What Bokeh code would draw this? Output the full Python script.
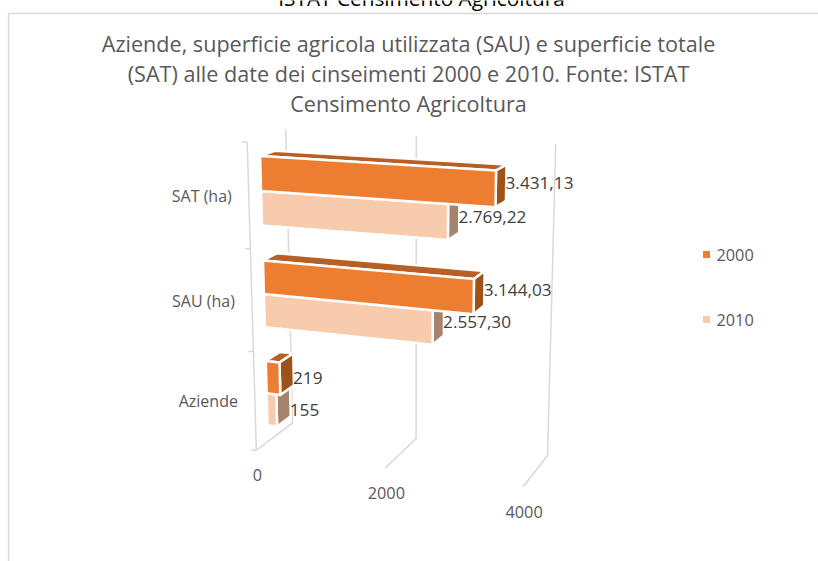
import numpy as np
from bokeh.plotting import figure
from bokeh.models import Range1d, ColumnDataSource
from bokeh.core.properties import value
from bokeh.embed import file_html
from bokeh.resources import INLINE

categories = ["Aziende", "SAU (ha)", "SAT (ha)"]
values_2000 = [219, 3144.03, 3431.13]
values_2010 = [155, 2557.30, 2769.22]
labels_2000 = ["219", "3.144,03", "3.431,13"]
labels_2010 = ["155", "2.557,30", "2.769,22"]
series_names = ["2000", "2010"]
value_ticks = [0, 2000, 4000]
title_lines = ["Aziende, superficie agricola utilizzata (SAU) e superficie totale",
               "(SAT) alle date dei cinseimenti 2000 e 2010. Fonte: ISTAT",
               "Censimento Agricoltura"]
top_text = "ISTAT Censimento Agricoltura"

VMAX = 4000.0
FONT = "Open Sans"
GRID = "#D9D9D9"

# Perspective camera: homography from (value, height, depth) to the page, fitted on the box corners
_calib = [((0, 0, 0), (256, 449)), ((0, 0, 1), (292, 423)), ((1, 0, 0), (523, 486)),
          ((1, 0, 1), (547, 455)), ((0, 1, 1), (286, 128)), ((1, 1, 1), (555, 143)),
          ((0, 1, 0), (246, 142)), ((.5, 0, 1), (415, 438)), ((.5, 1, 1), (416, 136)),
          ((.5, 0, 0), (385, 468))]
_A, _b = [], []
for (u, w, d), (X, Y) in _calib:
    _A.append([u, w, d, 1, 0, 0, 0, 0, -X*u, -X*w, -X*d]); _b.append(X)
    _A.append([0, 0, 0, 0, u, w, d, 1, -Y*u, -Y*w, -Y*d]); _b.append(Y)
_h = np.linalg.lstsq(np.array(_A, float), np.array(_b, float), rcond=None)[0]


def proj(v, w, d):
    u = v / VMAX
    q = _h[8]*u + _h[9]*w + _h[10]*d + 1
    return ((_h[0]*u + _h[1]*w + _h[2]*d + _h[3]) / q,
            (_h[4]*u + _h[5]*w + _h[6]*d + _h[7]) / q)


p = figure(width=818, height=561, x_range=Range1d(0, 818), y_range=Range1d(561, 0),
           output_backend="svg", toolbar_location=None, min_border=0,
           outline_line_color=None, background_fill_color="white", border_fill_color="white")
p.margin = (0, 0, 0, 0)
p.axis.visible = False
p.grid.visible = False

# chart frame
p.line([8, 8, 818], [561, 13, 13], line_color=GRID, line_width=1.5)


def txt(x, y, s, size, color, align="left", baseline="middle"):
    p.text(x=[x], y=[y], text=[s], text_font=value(FONT), text_font_size=size,
           text_color=color, text_align=align, text_baseline=baseline)


txt(421, -3, top_text, "20.8px", "#000000", "center")
for s, y in zip(title_lines, (43, 73, 103)):
    txt(408, y, s, "21.6px", "#595959", "center")

# walls: gridlines and axis line
for t in value_ticks:
    a, b, c = proj(t, 1, 1), proj(t, 0, 1), proj(t, 0, 0)
    p.line([a[0], b[0], c[0]], [a[1], b[1], c[1]], line_color=GRID, line_width=1.5)
    txt(c[0] + 1, c[1] + 25, str(t), "16.3px", "#595959", "center")

n = len(categories)
for i in range(n + 1):
    x, y = proj(0, i / n, 0)
    p.line([x - 5, x], [y, y], line_color=GRID, line_width=1.5)
a, b = proj(0, 1, 0), proj(0, 0, 0)
p.line([a[0], b[0]], [a[1], b[1]], line_color=GRID, line_width=1.5)
for i, c in enumerate(categories):
    x, y = proj(0, (i + .5) / n, 0)
    txt(x - 17, y, c, "16px", "#595959", "right")

# bars
D0, D1 = 0.31, 0.69
PAD, BAR = 0.17, 0.33
styles = {"2000": ("#ED7D31", "#B85F26", "#9C5219"),
          "2010": ("#F8CBAD", "#C9A48C", "#A5836C")}
series = [("2010", values_2010, labels_2010, 0), ("2000", values_2000, labels_2000, 1)]
labels_to_draw = []
for i in range(n - 1, -1, -1):
    for name, vals, labs, slot in series:
        v = vals[i]
        wb = (i + PAD + slot * BAR) / n
        wt = (i + PAD + (slot + 1) * BAR) / n
        front = [proj(0, wb, D0), proj(v, wb, D0), proj(v, wt, D0), proj(0, wt, D0)]
        top = [proj(0, wt, D0), proj(v, wt, D0), proj(v, wt, D1), proj(0, wt, D1)]
        right = [proj(v, wb, D0), proj(v, wb, D1), proj(v, wt, D1), proj(v, wt, D0)]
        cf, ct, cr = styles[name]
        src = ColumnDataSource(dict(
            xs=[[q[0] for q in f] for f in (top, right, front)],
            ys=[[q[1] for q in f] for f in (top, right, front)],
            c=[ct, cr, cf]))
        p.patches("xs", "ys", source=src, fill_color="c", line_color="white",
                  line_width=2.5, line_join="round")
        rx = max(q[0] for q in right)
        ry = sum(q[1] for q in right) / 4
        labels_to_draw.append((rx - 1, ry + 4.5 - 9 * v / VMAX, labs[i]))

for x, y, s in labels_to_draw:
    txt(x, y, s, "17.2px", "#404040")

# legend
for name, y in zip(series_names, (254, 319)):
    p.rect(x=[706], y=[y], width=7, height=7, fill_color=styles[name][0], line_color=None)
    txt(716, y, name, "16.3px", "#595959")

open("out.html", "w").write(file_html(p, INLINE))
